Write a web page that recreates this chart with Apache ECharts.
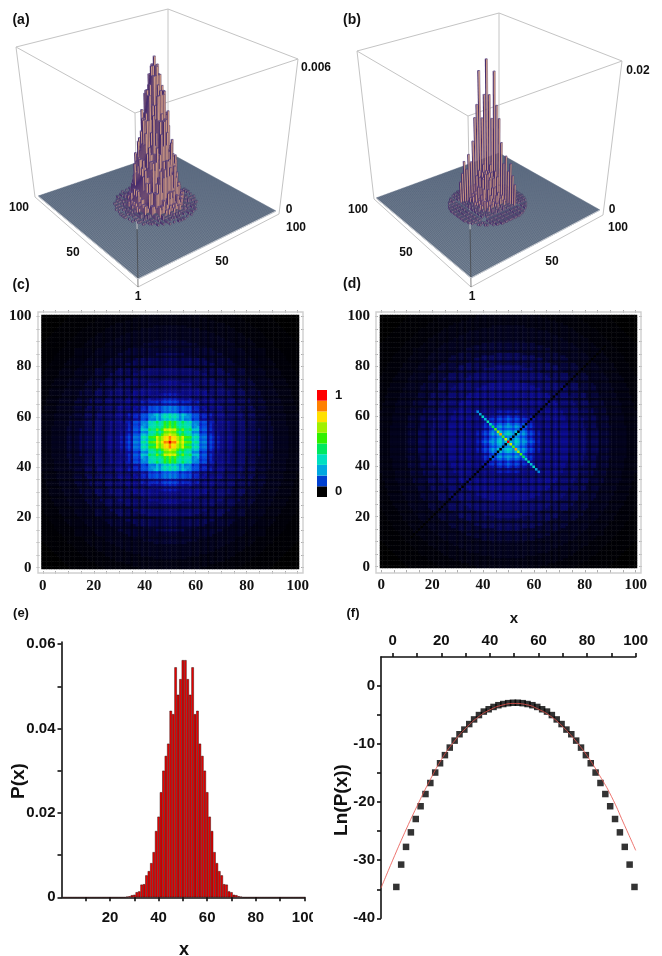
<!DOCTYPE html>
<html><head><meta charset="utf-8">
<style>html,body{margin:0;padding:0;background:#fff}#c{width:662px;height:956px}</style>
<script src="https://cdn.jsdelivr.net/npm/echarts@6/dist/echarts.min.js"></script>
</head><body><div id="c"></div>
<script>
// ---------- DATA ----------
// (c) heat levels, one octant around the centre: row k = max(|dx|,|dy|), char m = min(|dx|,|dy|). "c*n" = n times c.
const octantC = ["z","xv","vvt","ttrr","rtrqo","qrqoon","ooonnll","nnnllkkj","lllkkkjhh","kkkkjjhhge","jjjjhhggeed","hhhhgggeddcb","ggggeeeddcbba","eeeedddccbba99","ddddcccbbaa9998","ccccbbbaaa999888","bbbbaaaa999988888","a*5,9*5,8*8","9*8,8*9,7*2","9*5,8*11,7*4"];
const octantOuter = ["8*15,7*6","8*13,7*9","8*11,7*11,6*1","8*9,7*12,6*3","8*5,7*14,6*6","7*18,6*8","7*16,6*9,5*2","7*15,6*9,5*4","7*13,6*9,5*7","7*10,6*11,5*9","7*6,6*14,5*8,4*3","6*18,5*9,4*5","6*16,5*9,4*8","6*14,5*10,4*9,3*1","6*11,5*12,4*9,3*3","6*6,5*15,4*10,3*5","5*19,4*11,3*7","5*17,4*12,3*9","5*15,4*12,3*8,2*4","5*11,4*15,3*8,2*6","5*7,4*17,3*9,2*8","4*22,3*10,2*7,1*3","4*20,3*10,2*8,1*5","4*18,3*11,2*8,1*7","4*16,3*11,2*9,1*9","4*12,3*14,2*9,1*10,0*1","4*7,3*17,2*9,1*11,0*3","3*22,2*10,1*11,0*5","3*19,2*11,1*12,0*7","3*16,2*13,1*12,0*9","3*13,2*14,1*13,0*11"];
// (d) inner square
const octantD = ["g","gg","ggg","gggg","ggggg","fffffe","eeeeedd","eddddccc","dccccbbbb","cbbbbaaaa9","baaaa999999","a99999999888","9*5,8*8","8*14","8*15","8*16","8*17","8*18","8*17,7*2","8*16,7*4"];
// dark grid lines: brightness of the whole row/column at each offset from the centre
const stripeC = [1,.9,.97,.88,.82,.97,.9,.92,1,.8,.92,1,.74,.92,1,.7,1,.95,.72,1,1,.95,.74,1,1,.95,.74,1,1,1,.7,1,1,1,.8,1,1,1,.84,1,1,1,1,1,1,1,1,1,1,1,1];
const stripeD = [1,.94,.82,1,.94,.8,1,.94,.78,1,.94,.76,1,.92,.74,1,1,.72,1,1,.74,1,1,1,.74,1,1,1,.74,1,1,1,.78,1,1,1,.82,1,1,1,.86,1,1,1,1,1,1,1,1,1,1];
// (d) the bright anti-diagonal (offset 0..12) and the reach of the black main diagonal
const antiDiagonalD = "zoltnljghfged";
const mainDiagonalReachD = 38;
const levelChars = "0123456789abcdefghijklmnopqrstuvwxyz";
const heatPalette = ["#000000","#000005","#01010a","#020214","#03031f","#050538","#08085c","#0a0a74","#0c0c94","#0820c0","#0438d8","#0250e0","#0068e0","#0088e0","#00a4dc","#00c0d4","#00d8c0","#00e4a0","#00e880","#00ea60","#10ee30","#40f000","#80f000","#a8f000","#d0f000","#e8ee00","#f4ec00","#ffdc00","#ffc000","#ffa000","#ff8000","#ff6000","#ff4000","#ff2000","#ff0800","#e80000"];
// relative height in the 3D panels for each heat level
const levelHeight = [0,0,0,0,.001,.002,.003,.006,.014,.03,.05,.07,.10,.14,.20,.23,.28,.33,.37,.42,.5,.58,.62,.67,.74,.77,.80,.86,.88,.90,.92,.94,.95,.96,.97,.98];
const colorbarColors = ["#000000","#0040d0","#00a8e0","#00e0c0","#00e860","#30f000","#a0f000","#ffe000","#ff8000","#ff0000"];
const colorbarLabels = ["0","","","","","","","","","1"];
// (e)
const probabilityX = [0,0,0,0,0,0,0,0,0,0,0,0,0,0,0,0,0,0,0,0,0,0,0,0,0,0,.00015,.00025,.0005,.0006,.0012,.0014,.003,.0031,.0052,.0062,.0081,.0107,.0157,.0191,.0249,.030,.0335,.0364,.0442,.0434,.0545,.048,.0517,.0562,.0562,.0517,.048,.0545,.0434,.0442,.0364,.0335,.030,.0249,.0191,.0157,.0107,.0081,.0062,.0052,.0031,.003,.0014,.0012,.0006,.0005,.00025,.00015,0,0,0,0,0,0,0,0,0,0,0,0,0,0,0,0,0,0,0,0,0,0,0,0,0,0];
// (f)
const lnX = [1.5,3.5,5.5,7.5,9.5,11.5,13.5,15.5,17.5,19.5,21.5,23.5,25.5,27.5,29.5,31.5,33.5,35.5,37.5,39.5,41.5,43.5,45.5,47.5,49.5,51.5,53.5,55.5,57.5,59.5,61.5,63.5,65.5,67.5,69.5,71.5,73.5,75.5,77.5,79.5,81.5,83.5,85.5,87.5,89.5,91.5,93.5,95.5,97.5,99.5];
const lnP = [-34.6,-30.75,-27.7,-25.2,-22.9,-20.7,-18.6,-16.7,-14.9,-13.3,-11.9,-10.6,-9.4,-8.3,-7.5,-6.55,-5.75,-5.0,-4.4,-4.0,-3.6,-3.3,-3.1,-2.95,-2.88,-2.88,-2.95,-3.1,-3.3,-3.6,-4.0,-4.4,-5.0,-5.75,-6.55,-7.5,-8.3,-9.4,-10.6,-11.9,-13.3,-14.9,-16.7,-18.6,-20.7,-22.9,-25.2,-27.7,-30.75,-34.6];
const fitX = [-4.8,0,5,10,15,20,25,30,35,40,45,50,55,60,65,70,75,80,85,90,95,100];
const fitY = [-34.8,-30.0,-25.2,-20.7,-16.5,-12.7,-9.7,-7.3,-5.4,-4.1,-3.3,-3.0,-3.2,-4.0,-5.2,-7.0,-9.3,-12.0,-15.3,-19.0,-23.6,-28.3];
// tick labels
const axisIndex = Array.from({length:101},(_,i)=>String(i));
const heatTicks = 20;
const eXLabels = [20,40,60,80,100], eXTicks = [10,20,30,40,50,60,70,80,90,100];
const eYLabels = [0,.02,.04,.06], eYTicks = [0,.01,.02,.03,.04,.05,.06];
const fXLabels = [0,20,40,60,80,100], fXTicks = [0,10,20,30,40,50,60,70,80,90,100];
const fYLabels = [0,-10,-20,-30,-40], fYTicks = [0,-5,-10,-15,-20,-25,-30,-35,-40];

// ---------- layout ----------
const cubeA = {top:[[135,113],[298,59],[168,9],[16,47]], surf:[[138,279],[276,211],[168,152],[38,196]], floor:[[138,287],[279,214],[168,152],[35,197]]};
const cubeB = {top:[[468,116],[622,61],[499,13],[357,51]], surf:[[471,278],[600,210],[499,153],[376,198]], floor:[[471,287],[603,215],[499,153],[374,199]]};
const sansBold = "'Liberation Sans',Arial,sans-serif";
const serif = "'Liberation Serif',serif";
const texts = [
 ["(a)",21,20,14],["(b)",352,20,14],["(c)",21,285,14],["(d)",352,284,14],["(e)",21,613,13],["(f)",353,613,13],
 ["0.006",316,68,12],["0",289,210,12],["100",296,228,12],["50",222,262,12],["100",19,208,12],["50",73,253,12],["1",138,297,12],
 ["0.02",638,71,12],["0",612,210,12],["100",618,228,12],["50",552,262,12],["100",358,210,12],["50",406,253,12],["1",472,297,12]
];

// ---------- build fields ----------
const expand = r => r.split(',').map(t => t.includes('*') ? t[0].repeat(+t.slice(2)) : t).join('');
function field(rows, stripe, anti, reach){
  const tri = rows.map(expand), cells = [];
  for(let x=0;x<=100;x++) for(let y=0;y<=100;y++){
    const dx=Math.abs(x-50), dy=Math.abs(y-50), k=Math.max(dx,dy), m=Math.min(dx,dy);
    let v = levelChars.indexOf(tri[k][m]) * stripe[dx] * stripe[dy];
    if(anti && x+y===100 && dx<anti.length) v = levelChars.indexOf(anti[dx]);
    if(reach && x===y && dx>0 && dx<=reach) v = 0;
    cells.push([x,y,+v.toFixed(2)]);
  }
  return cells;
}
const heatC = field(octantC.concat(octantOuter), stripeC);
const heatD = field(octantD.concat(octantOuter), stripeD, antiDiagonalD, mainDiagonalReachD);

// ---------- 3D projection ----------
function homography(q){ // unit square -> quad q[0](0,0) q[1](1,0) q[2](1,1) q[3](0,1)
  const [a,b,c,d]=q, dx1=b[0]-c[0], dx2=d[0]-c[0], sx=a[0]-b[0]+c[0]-d[0], dy1=b[1]-c[1], dy2=d[1]-c[1], sy=a[1]-b[1]+c[1]-d[1];
  const den=dx1*dy2-dx2*dy1, g=(sx*dy2-dx2*sy)/den, h=(dx1*sy-sx*dy1)/den;
  const A=b[0]-a[0]+g*b[0], B=d[0]-a[0]+h*d[0], D=b[1]-a[1]+g*b[1], E=d[1]-a[1]+h*d[1];
  return (u,v)=>{const w=g*u+h*v+1; return [(A*u+B*v+a[0])/w,(D*u+E*v+a[1])/w];};
}
function cubeSeries(cube, heat){
  const H0=homography(cube.surf), H1=homography(cube.top);
  const P=(u,v,h)=>{const p=H0(u,v),q=H1(u,v);return [p[0]+(q[0]-p[0])*h,p[1]+(q[1]-p[1])*h];};
  const line=(api,a,b,stroke,w)=>{const s=api.coord(a),e=api.coord(b);return {type:'line',silent:true,shape:{x1:s[0],y1:s[1],x2:e[0],y2:e[1]},style:{stroke:stroke,lineWidth:w}};};
  const base={type:'custom',xAxisIndex:0,yAxisIndex:0,silent:true,animation:false,clip:false,data:[[0,0]],
    renderItem(params,api){
      const ch=[],gray='#c4c4c4',t=cube.top,f=cube.floor,s=cube.surf;
      [[t[0],t[1]],[t[1],t[2]],[t[2],t[3]],[t[3],t[0]],[t[2],f[2]],[t[3],f[3]],[t[1],f[1]],[f[3],f[0]],[f[0],f[1]]].forEach(e=>ch.push(line(api,e[0],e[1],gray,1)));
      ch.push({type:'polygon',silent:true,shape:{points:s.map(p=>api.coord(p))},style:{fill:'#86929f'}});
      for(let i=0;i<=101;i++){
        ch.push(line(api,H0(i/101,0),H0(i/101,1),'#3e4e6a',.36));
        ch.push(line(api,H0(0,i/101),H0(1,i/101),'#3e4e6a',.36));
      }
      const mid=P(0,0,.3);
      ch.push(line(api,t[0],mid,gray,1)); ch.push(line(api,mid,f[0],'#444',.7));
      ch.push(line(api,s[3],s[0],'#c9ccd2',1)); ch.push(line(api,s[0],s[1],'#c9ccd2',1));
      return {type:'group',children:ch};
    }};
  const bars=heat.map(c=>[c[0],c[1],levelHeight[Math.round(c[2])]]).filter(c=>c[2]>=.012).sort((a,b)=>(b[0]+b[1])-(a[0]+a[1]));
  const spikes={type:'custom',xAxisIndex:0,yAxisIndex:0,silent:true,animation:false,clip:false,progressive:0,data:bars,
    renderItem(params,api){
      const x=api.value(0),y=api.value(1),h=api.value(2),d=1/101,u0=x/101,v0=y/101,u1=u0+d,v1=v0+d;
      const pts=a=>a.map(p=>api.coord(P(p[0],p[1],p[2])));
      const low=h<.05;
      return {type:'group',children:[
        {type:'polygon',silent:true,shape:{points:pts([[u0,v0,0],[u0,v1,0],[u0,v1,h],[u0,v0,h]])},style:{fill:'#4b2f6e'}},
        {type:'polygon',silent:true,shape:{points:pts([[u0,v0,0],[u1,v0,0],[u1,v0,h],[u0,v0,h]])},style:{fill:low?'#a08a90':'#e6ad8c',stroke:'#3a2560',lineWidth:.35}},
        {type:'polygon',silent:true,shape:{points:pts([[u0,v0,h],[u1,v0,h],[u1,v1,h],[u0,v1,h]])},style:{fill:low?'#4e5272':'#5f4a86'}}
      ]};
    }};
  return [base,spikes];
}
function heatAxes(gridIndex){
  const common={type:'category',data:axisIndex,gridIndex,offset:5,boundaryGap:true,axisLine:{show:false},
    axisTick:{show:true,inside:true,length:3,alignWithLabel:true,interval:i=>i%5===0,lineStyle:{color:'#999',width:.8}},splitLine:{show:false}};
  const lab={show:true,interval:i=>i%heatTicks===0,fontFamily:serif,fontWeight:'bold',fontSize:15,color:'#111',margin:5};
  return {x:[{...common,position:'bottom',axisLabel:lab},{...common,position:'top',axisLabel:{show:false}}],
          y:[{...common,position:'left',axisLabel:lab},{...common,position:'right',axisLabel:{show:false}}]};
}
const axC=heatAxes(1), axD=heatAxes(2);
const tickFont={fontFamily:sansBold,fontWeight:'bold',fontSize:15,color:'#111'};
const solid={lineStyle:{color:'#111',width:1.6}};
const series=[
  ...cubeSeries(cubeA,heatC),
  ...cubeSeries(cubeB,heatD),
  {type:'heatmap',xAxisIndex:1,yAxisIndex:1,data:heatC,silent:true,progressive:0,animation:false,itemStyle:{borderWidth:0},emphasis:{disabled:true}},
  {type:'heatmap',xAxisIndex:3,yAxisIndex:3,data:heatD,silent:true,progressive:0,animation:false,itemStyle:{borderWidth:0},emphasis:{disabled:true}},
  {type:'bar',xAxisIndex:5,yAxisIndex:5,silent:true,barWidth:'100%',animation:false,data:colorbarColors.map(c=>({value:1,itemStyle:{color:c}}))},
  {type:'bar',xAxisIndex:6,yAxisIndex:6,silent:true,barWidth:2.43,animation:false,data:probabilityX.map((v,i)=>[i+1,v]),
    itemStyle:{color:'#f00000',borderColor:'#200',borderWidth:.45}},
  {type:'scatter',xAxisIndex:7,yAxisIndex:7,silent:true,animation:false,symbol:'rect',symbolSize:6.5,itemStyle:{color:'#000'},data:lnX.map((x,i)=>[x,lnP[i]])},
  {type:'line',xAxisIndex:7,yAxisIndex:7,silent:true,animation:false,showSymbol:false,smooth:true,lineStyle:{color:'#e8504a',width:.8},data:fitX.map((x,i)=>[x,fitY[i]])}
];
const heatIdx=[4,5];
const option={
  animation:false,backgroundColor:'#fff',
  grid:[
    {left:0,top:0,width:662,height:956},
    {left:41.5,top:315,width:257.5,height:254},
    {left:380,top:315,width:257,height:253},
    {left:317,top:390,width:10,height:107},
    {left:61.5,top:642,width:242.8,height:255.3},
    {left:381,top:657,width:254.7,height:261.3}
  ],
  xAxis:[
    {type:'value',gridIndex:0,min:0,max:662,show:false},
    axC.x[0],axC.x[1],axD.x[0],axD.x[1],
    {type:'value',gridIndex:3,min:0,max:1,show:false},
    {type:'value',gridIndex:4,min:0,max:100,position:'bottom',splitLine:{show:false},axisLine:{show:true,...solid},
      axisTick:{show:true,length:4,customValues:eXTicks,...solid},
      axisLabel:{customValues:eXLabels,margin:13,...tickFont}},
    {type:'value',gridIndex:5,min:-4.8,max:100,position:'top',splitLine:{show:false},axisLine:{show:true,onZero:false,...solid},
      axisTick:{show:true,length:4,customValues:fXTicks,...solid},
      axisLabel:{customValues:fXLabels,margin:9,...tickFont}}
  ],
  yAxis:[
    {type:'value',gridIndex:0,min:0,max:956,inverse:true,show:false},
    axC.y[0],axC.y[1],axD.y[0],axD.y[1],
    {type:'category',gridIndex:3,position:'right',data:colorbarLabels,axisLine:{show:false},axisTick:{show:false},
      axisLabel:{interval:0,fontFamily:sansBold,fontWeight:'bold',fontSize:13,color:'#111',margin:8}},
    {type:'value',gridIndex:4,min:0,max:.0605,splitLine:{show:false},axisLine:{show:true,onZero:false,...solid},
      axisTick:{show:true,length:4,customValues:eYTicks,...solid},
      axisLabel:{customValues:eYLabels,margin:6,formatter:v=>v===0?'0':v.toFixed(2),...tickFont}},
    {type:'value',gridIndex:5,min:-40,max:5,splitLine:{show:false},axisLine:{show:true,onZero:false,...solid},
      axisTick:{show:true,length:4,customValues:fYTicks,...solid},
      axisLabel:{customValues:fYLabels,margin:6,...tickFont}}
  ],
  visualMap:[
    {show:false,seriesIndex:heatIdx[0],dimension:2,min:0,max:35,inRange:{color:heatPalette}},
    {show:false,seriesIndex:heatIdx[1],dimension:2,min:0,max:35,inRange:{color:heatPalette}}
  ],
  series,
  graphic:[
    {type:'rect',silent:true,z:50,shape:{x:38,y:312,width:265,height:261},style:{fill:'none',stroke:'#cfcfcf',lineWidth:1.4}},
    {type:'rect',silent:true,z:50,shape:{x:376,y:312,width:265,height:261},style:{fill:'none',stroke:'#cfcfcf',lineWidth:1.4}},
    {type:'rect',silent:true,z:60,shape:{x:313,y:905,width:25,height:25},style:{fill:'#fff'}},
    ...texts.map(t=>({type:'text',silent:true,z:70,x:t[1],y:t[2],style:{text:t[0],font:'bold '+t[3]+'px '+sansBold,fill:'#111',align:'center',verticalAlign:'middle'}})),
    {type:'text',silent:true,z:70,x:184,y:950,style:{text:'x',font:'bold 18px '+sansBold,fill:'#111',align:'center',verticalAlign:'middle'}},
    {type:'text',silent:true,z:70,x:514,y:619,style:{text:'x',font:'bold 15px '+sansBold,fill:'#111',align:'center',verticalAlign:'middle'}},
    {type:'text',silent:true,z:70,x:19,y:781,rotation:Math.PI/2,style:{text:'P(x)',font:'bold 19px '+sansBold,fill:'#111',align:'center',verticalAlign:'middle'}},
    {type:'text',silent:true,z:70,x:342,y:800,rotation:Math.PI/2,style:{text:'Ln(P(x))',font:'bold 19px '+sansBold,fill:'#111',align:'center',verticalAlign:'middle'}}
  ]
};
const chart=echarts.init(document.getElementById('c'),null,{renderer:'canvas'});
chart.setOption(option);
</script></body></html>
